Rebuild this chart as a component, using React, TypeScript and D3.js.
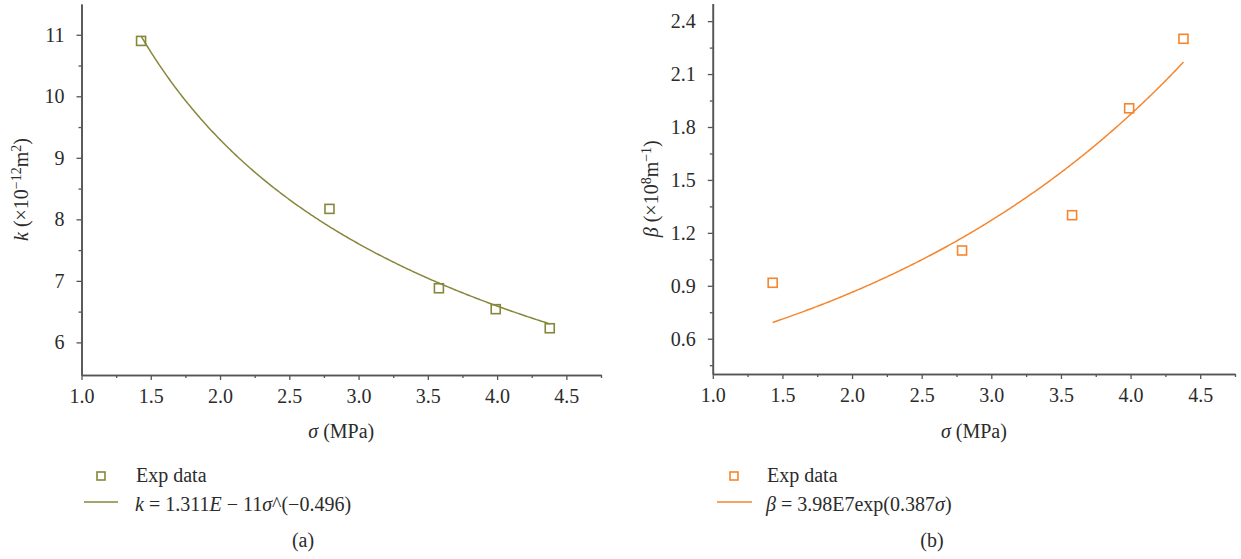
import React, { useEffect, useRef } from "react";
import * as d3 from "d3";

// stress values (MPa), same for both panels
const sigma = [1.43, 2.79, 3.58, 3.99, 4.38];
// permeability k (x1e-12 m^2)
const kValues = [10.9, 8.17, 6.88, 6.54, 6.23];
// non-Darcy factor beta (x1e8 m^-1)
const betaValues = [0.917, 1.1, 1.3, 1.906, 2.3];

const xTicks = [1.0, 1.5, 2.0, 2.5, 3.0, 3.5, 4.0, 4.5];
const xMinor = [1.25, 1.75, 2.25, 2.75, 3.25, 3.75, 4.25, 4.75];
const kTicks = [6, 7, 8, 9, 10, 11];
const kMinor = [6.5, 7.5, 8.5, 9.5, 10.5];
const betaTicks = [0.6, 0.9, 1.2, 1.5, 1.8, 2.1, 2.4];
const betaMinor = [0.45, 0.75, 1.05, 1.35, 1.65, 1.95, 2.25];

// fit coefficients as printed in the legends (scaled to axis units)
const kFitA = 13.11; // 1.311E-11 -> x1e-12
const kFitB = -0.496;
const betaFitA = 0.398; // 3.98E7 -> x1e8
const betaFitB = 0.387;

const OLIVE = "#87873c";
const ORANGE = "#f5862f";
const AXIS = "#555";
const TEXT = "#2b2b2b";
const FONT = "'Liberation Serif', serif";
const FS = 20;

export default function App() {
  const ref = useRef<SVGSVGElement | null>(null);

  useEffect(() => {
    const svg = d3.select(ref.current);
    svg.selectAll("*").remove();

    function panel(opts: any) {
      const g = svg.append("g");
      const x = d3.scaleLinear().domain([1, 4.75]).range(opts.xr);
      const y = d3.scaleLinear().domain(opts.yd).range(opts.yr);
      const y0 = opts.yr[0];
      const x0 = opts.xr[0];

      // x axis
      g.append("g")
        .attr("transform", `translate(0,${y0})`)
        .call(d3.axisBottom(x).tickValues(xMinor).tickSize(3).tickSizeOuter(0).tickFormat(() => ""));
      g.append("g")
        .attr("transform", `translate(0,${y0})`)
        .call(d3.axisBottom(x).tickValues(xTicks).tickSize(5).tickSizeOuter(0).tickPadding(9).tickFormat(d3.format(".1f")));

      // y axis
      g.append("g")
        .attr("transform", `translate(${x0},0)`)
        .call(d3.axisLeft(y).tickValues(opts.yMinor).tickSize(3).tickSizeOuter(0).tickFormat(() => ""));
      g.append("g")
        .attr("transform", `translate(${x0},0)`)
        .call(d3.axisLeft(y).tickValues(opts.yTicks).tickSize(5).tickSizeOuter(0).tickPadding(12).tickFormat(opts.fmt));

      g.selectAll(".domain").attr("stroke", AXIS).attr("stroke-width", 1.6);
      g.selectAll(".tick line").attr("stroke", AXIS).attr("stroke-width", 1.3);
      g.selectAll(".tick text").attr("fill", TEXT).attr("font-size", FS).attr("font-family", FONT);

      // x title
      const xt = g.append("text")
        .attr("x", (opts.xr[0] + opts.xr[1]) / 2)
        .attr("y", 438)
        .attr("text-anchor", "middle")
        .attr("font-family", FONT).attr("font-size", FS).attr("fill", TEXT);
      xt.append("tspan").attr("font-style", "italic").text("σ");
      xt.append("tspan").text(" (MPa)");

      // y title
      const yt = g.append("text")
        .attr("transform", `translate(${opts.ytx},${(opts.yr[0] + opts.yr[1]) / 2}) rotate(-90)`)
        .attr("text-anchor", "middle")
        .attr("font-family", FONT).attr("font-size", FS).attr("fill", TEXT);
      opts.ytitle.forEach((p: any) => {
        const t = yt.append("tspan").text(p.t);
        if (p.i) t.attr("font-style", "italic");
        if (p.sup) t.attr("dy", -7).attr("font-size", 14);
        if (p.down) t.attr("dy", 7);
      });

      // fitted curve
      const xs = d3.range(sigma[0], sigma[sigma.length - 1] + 0.005, 0.01);
      const line = d3.line<number>().x((s) => x(s)).y((s) => y(opts.fit(s)));
      g.append("path")
        .datum(xs)
        .attr("d", line)
        .attr("fill", "none")
        .attr("stroke", opts.color)
        .attr("stroke-width", 1.5);

      // data markers
      g.selectAll("rect.pt")
        .data(sigma)
        .enter()
        .append("rect")
        .attr("class", "pt")
        .attr("x", (s) => x(s) - 4.5)
        .attr("y", (_, i) => y(opts.values[i]) - 4.5)
        .attr("width", 9)
        .attr("height", 9)
        .attr("fill", "none")
        .attr("stroke", opts.color)
        .attr("stroke-width", 1.6);

      // legend
      const L = opts.legend;
      g.append("rect")
        .attr("x", L.mx - 4).attr("y", 476 - 4)
        .attr("width", 8).attr("height", 8)
        .attr("fill", "none").attr("stroke", opts.color).attr("stroke-width", 1.6);
      g.append("text")
        .attr("x", L.tx).attr("y", 482)
        .attr("font-family", FONT).attr("font-size", FS).attr("fill", TEXT)
        .text("Exp data");
      g.append("line")
        .attr("x1", L.l1).attr("x2", L.l2).attr("y1", 502).attr("y2", 502)
        .attr("stroke", opts.color).attr("stroke-width", 1.5);
      const eq = g.append("text")
        .attr("x", L.tx - 1).attr("y", 511)
        .attr("font-family", FONT).attr("font-size", FS).attr("fill", TEXT);
      opts.eq.forEach((p: any) => {
        const t = eq.append("tspan").text(p.t);
        if (p.i) t.attr("font-style", "italic");
      });
      g.append("text")
        .attr("x", L.cap).attr("y", 547)
        .attr("text-anchor", "middle")
        .attr("font-family", FONT).attr("font-size", FS).attr("fill", TEXT)
        .text(opts.caption);
    }

    panel({
      xr: [81.5, 601],
      yd: [5.47, 11.5],
      yr: [375, 4],
      yTicks: kTicks,
      yMinor: kMinor,
      fmt: d3.format("d"),
      ytx: 28,
      ytitle: [
        { t: "k", i: true },
        { t: " (×10" },
        { t: "−12", sup: true },
        { t: "m", down: true },
        { t: "2", sup: true },
        { t: ")", down: true },
      ],
      fit: (s: number) => kFitA * Math.pow(s, kFitB),
      values: kValues,
      color: OLIVE,
      legend: { mx: 101, tx: 136, l1: 84, l2: 118, cap: 303 },
      eq: [
        { t: "k", i: true },
        { t: " = 1.311" },
        { t: "E", i: true },
        { t: " − 11" },
        { t: "σ", i: true },
        { t: "^(−0.496)" },
      ],
      caption: "(a)",
    });

    panel({
      xr: [712.8, 1235],
      yd: [0.4, 2.5],
      yr: [374, 3.5],
      yTicks: betaTicks,
      yMinor: betaMinor,
      fmt: d3.format(".1f"),
      ytx: 658,
      ytitle: [
        { t: "β", i: true },
        { t: " (×10" },
        { t: "8", sup: true },
        { t: "m", down: true },
        { t: "−1", sup: true },
        { t: ")", down: true },
      ],
      fit: (s: number) => betaFitA * Math.exp(betaFitB * s),
      values: betaValues,
      color: ORANGE,
      legend: { mx: 734, tx: 767, l1: 717, l2: 752, cap: 932 },
      eq: [
        { t: "β", i: true },
        { t: " = 3.98E7exp(0.387" },
        { t: "σ", i: true },
        { t: ")" },
      ],
      caption: "(b)",
    });
  }, []);

  return (
    <svg
      ref={ref}
      width={1241}
      height={559}
      style={{ position: "absolute", left: 0, top: 0, background: "#fff" }}
    />
  );
}
